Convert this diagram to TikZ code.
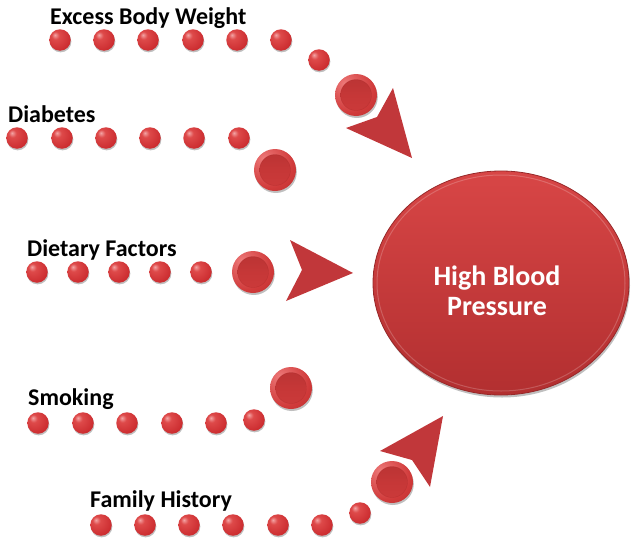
\documentclass[tikz,border=0pt]{standalone}
\usepackage{fontspec}
\setmainfont{Carlito}
\usetikzlibrary{shapes.geometric,shadows}
\definecolor{dhl}{HTML}{F4A6A6}
\definecolor{dmid}{HTML}{DE4A4A}
\definecolor{dbase}{HTML}{C9282C}
\definecolor{ddark}{HTML}{8E1A1A}
\definecolor{cl1}{HTML}{EE7A7A}
\definecolor{cbase}{HTML}{D03A3A}
\definecolor{cdark}{HTML}{9E2424}
\definecolor{arrowred}{HTML}{C1373A}
\definecolor{elltop}{HTML}{D84646}
\definecolor{ellbot}{HTML}{B22F30}
\pgfdeclareradialshading{smalldotsh}{\pgfpoint{-12bp}{12bp}}{color(0bp)=(dhl); color(9bp)=(dmid); color(35bp)=(dbase); color(58bp)=(ddark); color(75bp)=(ddark)}
\pgfdeclareradialshading{cellsh}{\pgfpoint{-14bp}{14bp}}{color(0bp)=(cl1); color(30bp)=(cbase); color(62bp)=(cdark); color(75bp)=(cdark)}
\pgfdeclareverticalshading{cellinner}{100bp}{color(0bp)=(cbase!75!dmid); color(50bp)=(cbase!95!black); color(100bp)=(cbase!82!black)}
\tikzset{
  lab/.style={inner sep=0pt, anchor=base west, font=\fontsize{24}{28}\selectfont\bfseries},
  smalldot/.style={circle, minimum size=21.5pt, inner sep=0pt, shading=smalldotsh,
    drop shadow={shadow xshift=0.6pt, shadow yshift=-1.6pt, opacity=0.25, fill=black}},
  bigdot/.style={circle, minimum size=42pt, inner sep=0pt, shading=cellsh,
    drop shadow={shadow xshift=0.8pt, shadow yshift=-2pt, opacity=0.25, fill=black},
    path picture={\shade[shading=cellinner] (path picture bounding box.center) circle (15.5pt);
      \draw[cdark, line width=0.4pt, opacity=0.35] (path picture bounding box.center) circle (15.5pt);}},
  arrowhead/.style={fill=arrowred},
}
\begin{document}
\begin{tikzpicture}[x=1pt,y=-1pt]
\useasboundingbox (0,0) rectangle (640,541);
% central ellipse
\node[ellipse, minimum width=256pt, minimum height=224pt, inner sep=0pt,
  top color=elltop, bottom color=ellbot, draw=ellbot!85!black, line width=0.8pt,
  drop shadow={shadow xshift=1pt, shadow yshift=-2.5pt, opacity=0.25, fill=black}] (hbp) at (501,283) {};
\draw[white, opacity=0.2, line width=1pt] (501,283) ellipse (124pt and 108pt);
\node[inner sep=0pt, text=white, align=center, font=\fontsize{28}{30}\selectfont\bfseries] (hbptext) at (497,291) {High Blood\\Pressure};
% labels
\node[lab] (l1) at (50,24) {Excess Body Weight};
\node[lab] (l2) at (8,122) {Diabetes};
\node[lab] (l3) at (27,256) {Dietary Factors};
\node[lab] (l4) at (28,405) {Smoking};
\node[lab] (l5) at (90,507) {Family History};
% row 1
\foreach \x [count=\i] in {60,104,148,193,237,281} \node[smalldot] (a\i) at (\x,40) {};
\node[smalldot] (a7) at (319,60) {};
\node[bigdot] (a8) at (356,95) {};
% row 2
\foreach \x [count=\i] in {17,62,106,150,194,239} \node[smalldot] (b\i) at (\x,138) {};
\node[bigdot] (b7) at (275,170) {};
% row 3
\foreach \x [count=\i] in {37,78,119,160,201} \node[smalldot] (c\i) at (\x,272) {};
\node[bigdot] (c6) at (253,272) {};
% row 4
\foreach \x [count=\i] in {38,83,127,172,216} \node[smalldot] (d\i) at (\x,423) {};
\node[smalldot] (d6) at (254,420) {};
\node[bigdot] (d7) at (291,388) {};
% row 5
\foreach \x [count=\i] in {101,145,189,233,278,322} \node[smalldot] (e\i) at (\x,525) {};
\node[smalldot] (e7) at (360,513) {};
\node[bigdot] (e8) at (392,482) {};
% arrowheads
\fill[arrowhead] (346,128) -- (377,117) -- (393,88) -- (412,158) -- cycle;
\fill[arrowhead] (290,240) -- (353,273) -- (286,301) -- (302,270) -- cycle;
\fill[arrowhead] (380,451) -- (443,416) -- (430,487) -- (412,460) -- cycle;
\end{tikzpicture}
\end{document}
